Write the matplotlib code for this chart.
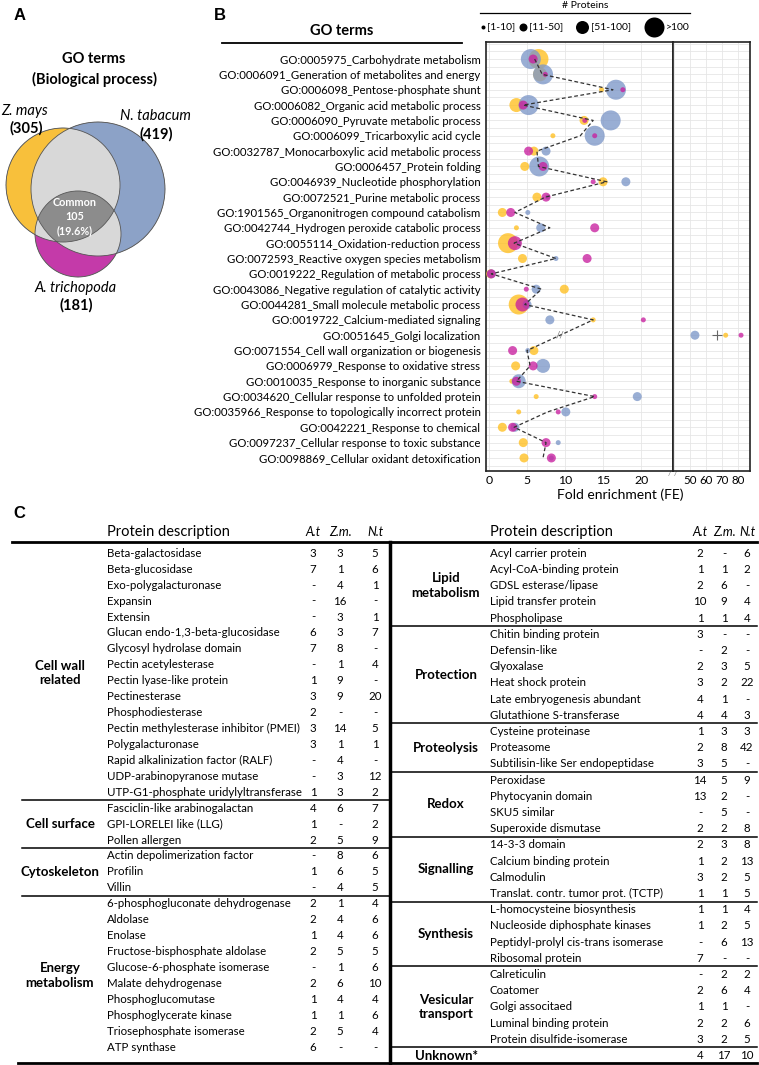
import numpy as np
import matplotlib
matplotlib.use("Agg")
import matplotlib.pyplot as plt
from matplotlib.patches import Circle

plt.rcParams['font.family'] = ['Lato', 'DejaVu Sans']

W, H = 759, 1065

# ---------------- Panel A: Venn of GO terms ----------------
venn_names = ['Z. mays', 'N. tabacum', 'A. trichopoda']
venn_totals = [305, 419, 181]
common_n = 105
common_pct = 19.6

# ---------------- Panel B: GO term enrichment ----------------
go_terms = [
    'GO:0005975_Carbohydrate metabolism',
    'GO:0006091_Generation of metabolites and energy',
    'GO:0006098_Pentose-phosphate shunt',
    'GO:0006082_Organic acid metabolic process',
    'GO:0006090_Pyruvate metabolic process',
    'GO:0006099_Tricarboxylic acid cycle',
    'GO:0032787_Monocarboxylic acid metabolic process',
    'GO:0006457_Protein folding',
    'GO:0046939_Nucleotide phosphorylation',
    'GO:0072521_Purine metabolic process',
    'GO:1901565_Organonitrogen compound catabolism',
    'GO:0042744_Hydrogen peroxide catabolic process',
    'GO:0055114_Oxidation-reduction process',
    'GO:0072593_Reactive oxygen species metabolism',
    'GO:0019222_Regulation of metabolic process',
    'GO:0043086_Negative regulation of catalytic activity',
    'GO:0044281_Small molecule metabolic process',
    'GO:0019722_Calcium-mediated signaling',
    'GO:0051645_Golgi localization',
    'GO:0071554_Cell wall organization or biogenesis',
    'GO:0006979_Response to oxidative stress',
    'GO:0010035_Response to inorganic substance',
    'GO:0034620_Cellular response to unfolded protein',
    'GO:0035966_Response to topologically incorrect protein',
    'GO:0042221_Response to chemical',
    'GO:0097237_Cellular response to toxic substance',
    'GO:0098869_Cellular oxidant detoxification',
]
fe_at = [5.8, 7.4, 17.6, 4.5, 12.6, 13.9, 5.2, 7.1, 13.7, 7.5, 2.85, 13.9, 3.4, 12.9,
         0.3, 4.9, 4.4, 20.3, 81.9, 3.1, 5.8, 3.6, 13.9, 9.1, 3.1, 7.5, 8.2]
fe_zm = [6.5, 6.7, 14.8, 3.6, 12.5, 8.4, 5.9, 4.7, 15.0, 6.3, 1.75, 3.6, 2.5, 4.4,
         0.2, 9.9, 3.9, 13.7, 72.3, 5.9, 3.5, 3.0, 6.2, 3.9, 1.75, 4.5, 4.6]
fe_nt = [5.5, 7.1, 16.7, 5.2, 16.0, 13.9, 7.5, 6.6, 18.0, 7.7, 5.1, 6.8, 3.9, 8.8,
         0.3, 6.2, 5.0, 8.0, 53.1, 5.1, 7.1, 3.9, 19.5, 10.1, 3.4, 9.1, 8.2]
fe_avg = [6.0, 7.0, 16.3, 4.5, 13.7, 12.0, 6.3, 6.5, 15.5, 7.4, 3.4, 8.0, 3.3, 8.8,
          0.3, 6.9, 4.7, 13.7, 66.9, 5.0, 5.4, 3.6, 13.9, 7.7, 3.3, 7.5, 7.1]
# protein-count class: 1=[1-10], 2=[11-50], 3=[51-100], 4=>100
cls_at = [2, 1, 1, 2, 1, 1, 2, 2, 1, 2, 2, 2, 3, 2, 2, 1, 3, 1, 1, 2, 2, 2, 1, 1, 2, 2, 2]
cls_zm = [4, 3, 1, 3, 2, 1, 2, 2, 2, 2, 2, 1, 4, 2, 2, 2, 4, 1, 1, 2, 2, 1, 1, 1, 2, 2, 2]
cls_nt = [4, 4, 4, 4, 4, 4, 2, 4, 2, 1, 1, 2, 1, 1, 2, 2, 2, 2, 2, 1, 3, 3, 2, 2, 2, 1, 1]
size_labels = ['[1-10]', '[11-50]', '[51-100]', '>100']
species = ['A. trichopoda', 'Z. mays', 'N. tobacum']

# ---------------- Panel C: protein table ----------------
left_groups = ['Cell wall\nrelated', 'Cell surface', 'Cytoskeleton', 'Energy\nmetabolism']
left_sizes = [16, 3, 3, 10]
left_items = [
    'Beta-galactosidase', 'Beta-glucosidase', 'Exo-polygalacturonase', 'Expansin', 'Extensin',
    'Glucan endo-1,3-beta-glucosidase', 'Glycosyl hydrolase domain', 'Pectin acetylesterase',
    'Pectin lyase-like protein', 'Pectinesterase', 'Phosphodiesterase',
    'Pectin methylesterase inhibitor (PMEI)', 'Polygalacturonase',
    'Rapid alkalinization factor (RALF)', 'UDP-arabinopyranose mutase',
    'UTP-G1-phosphate uridylyltransferase',
    'Fasciclin-like arabinogalactan', 'GPI-LORELEI like (LLG)', 'Pollen allergen',
    'Actin depolimerization factor', 'Profilin', 'Villin',
    '6-phosphogluconate dehydrogenase', 'Aldolase', 'Enolase', 'Fructose-bisphosphate aldolase',
    'Glucose-6-phosphate isomerase', 'Malate dehydrogenase', 'Phosphoglucomutase',
    'Phosphoglycerate kinase', 'Triosephosphate isomerase', 'ATP synthase',
]
left_at = ['3', '7', '-', '-', '-', '6', '7', '-', '1', '3', '2', '3', '3', '-', '-', '1',
           '4', '1', '2', '-', '1', '-', '2', '2', '1', '2', '-', '2', '1', '1', '2', '6']
left_zm = ['3', '1', '4', '16', '3', '3', '8', '1', '9', '9', '-', '14', '1', '4', '3', '3',
           '6', '-', '5', '8', '6', '4', '1', '4', '4', '5', '1', '6', '4', '1', '5', '-']
left_nt = ['5', '6', '1', '-', '1', '7', '-', '4', '-', '20', '-', '5', '1', '-', '12', '2',
           '7', '2', '9', '6', '5', '5', '4', '6', '6', '5', '6', '10', '4', '6', '4', '-']

right_groups = ['Lipid\nmetabolism', 'Protection', 'Proteolysis', 'Redox', 'Signalling',
                'Synthesis', 'Vesicular\ntransport', 'Unknown*']
right_sizes = [5, 6, 3, 4, 4, 4, 5, 1]
right_items = [
    'Acyl carrier protein', 'Acyl-CoA-binding protein', 'GDSL esterase/lipase',
    'Lipid transfer protein', 'Phospholipase',
    'Chitin binding protein', 'Defensin-like', 'Glyoxalase', 'Heat shock protein',
    'Late embryogenesis abundant', 'Glutathione S-transferase',
    'Cysteine proteinase', 'Proteasome', 'Subtilisin-like Ser endopeptidase',
    'Peroxidase', 'Phytocyanin domain', 'SKU5 similar', 'Superoxide dismutase',
    '14-3-3 domain', 'Calcium binding protein', 'Calmodulin', 'Translat. contr. tumor prot. (TCTP)',
    'L-homocysteine biosynthesis', 'Nucleoside diphosphate kinases',
    'Peptidyl-prolyl cis-trans isomerase', 'Ribosomal protein',
    'Calreticulin', 'Coatomer', 'Golgi associtaed', 'Luminal binding protein',
    'Protein disulfide-isomerase', '',
]
right_at = ['2', '1', '2', '10', '1', '3', '-', '2', '3', '4', '4', '1', '2', '3',
            '14', '13', '-', '2', '2', '1', '3', '1', '1', '1', '-', '7', '-', '2', '1', '2', '3', '4']
right_zm = ['-', '1', '6', '9', '1', '-', '2', '3', '2', '1', '4', '3', '8', '5',
            '5', '2', '5', '2', '3', '2', '2', '1', '1', '2', '6', '-', '2', '6', '1', '2', '2', '17']
right_nt = ['6', '2', '-', '4', '4', '-', '-', '5', '22', '-', '3', '3', '42', '-',
            '9', '-', '-', '8', '8', '13', '5', '5', '4', '5', '13', '-', '2', '4', '-', '6', '5', '10']

# ---------------- colours ----------------
c_at, c_zm, c_nt = '#C8209F', '#FFBF1F', '#7D97C8'
v_yellow, v_blue, v_mag = '#F8C13C', '#8CA2C8', '#C53AA9'
v_light, v_dark = '#D9D9D9', '#8C8C8C'

fig = plt.figure(figsize=(W / 100, H / 100), dpi=100)
cv = fig.add_axes([0, 0, 1, 1])
cv.axis('off')


def box(x0, y0, x1, y1):
    return [x0 / W, 1 - y1 / H, (x1 - x0) / W, (y1 - y0) / H]


# ====================== A ======================
cv.text(14, 16, 'A', fontsize=12, weight='bold', family='Liberation Sans', va='center', ha='left')
cv.text(94, 59, 'GO terms', fontsize=10.5, weight='bold', ha='center', va='center')
cv.text(94, 79, '(Biological process)', fontsize=10.5, weight='bold', ha='center', va='center')

circles = [((63, 185), 57), ((98, 189), 67), ((78, 234), 43)]
xs = np.linspace(0, 175, 700)
ys = np.linspace(110, 290, 720)
X, Y = np.meshgrid(xs, ys)
inside = [((X - c[0]) ** 2 + (Y - c[1]) ** 2 <= r ** 2) for c, r in circles]
cnt = inside[0].astype(int) + inside[1] + inside[2]
img = np.zeros((len(ys), len(xs), 4))
for m, col in [(inside[0] & (cnt == 1), v_yellow), (inside[1] & (cnt == 1), v_blue),
               (inside[2] & (cnt == 1), v_mag), (cnt == 2, v_light), (cnt == 3, v_dark)]:
    img[m] = matplotlib.colors.to_rgba(col)
cv.imshow(img, extent=(0, 175, 290, 110), interpolation='antialiased', zorder=1)
for c, r in circles:
    cv.add_patch(Circle(c, r, fill=False, ec='#555555', lw=0.6, zorder=2))

cv.text(25, 111, venn_names[0], fontsize=10.5, style='italic', ha='center', va='center')
cv.text(26, 128, f'({venn_totals[0]})', fontsize=10.5, weight='bold', ha='center', va='center')
cv.text(155, 116, venn_names[1], fontsize=10.5, style='italic', ha='center', va='center')
cv.text(156, 134, f'({venn_totals[1]})', fontsize=10.5, weight='bold', ha='center', va='center')
cv.text(76, 288, venn_names[2], fontsize=10.5, style='italic', ha='center', va='center')
cv.text(76, 305, f'({venn_totals[2]})', fontsize=10.5, weight='bold', ha='center', va='center')
for yy, s in zip([203, 217, 231], ['Common', str(common_n), f'({common_pct}%)']):
    cv.text(75, yy, s, fontsize=7.8, weight='bold', color='white', ha='center', va='center', zorder=3)

# ====================== B ======================
cv.text(214, 16, 'B', fontsize=12, weight='bold', family='Liberation Sans', va='center', ha='left')
cv.text(342, 31, 'GO terms', fontsize=10.5, weight='bold', ha='center', va='center')
cv.plot([222, 462], [42.5, 42.5], color='black', lw=1.3)
cv.text(585, 5, '# Proteins', fontsize=7.5, ha='center', va='center')
cv.plot([480, 690], [12.7, 12.7], color='black', lw=0.9)
leg_diam = [4, 8, 13, 20]
leg_mx = [483, 523, 582, 654]
for d, mx, lab in zip(leg_diam, leg_mx, size_labels):
    cv.scatter([mx], [27], s=(d * 0.72) ** 2, color='black', lw=0)
    cv.text(mx + d / 2 + 2, 27, lab, fontsize=7.5, ha='left', va='center')

ax1 = fig.add_axes(box(486, 41.7, 673, 471))
ax2 = fig.add_axes(box(673, 41.7, 750, 471))
rows = np.arange(len(go_terms))
pt_diam = np.array([0, 5, 9, 14, 20])
for ax in (ax1, ax2):
    for fe, cl, col in [(fe_zm, cls_zm, c_zm), (fe_nt, cls_nt, c_nt), (fe_at, cls_at, c_at)]:
        ax.scatter(fe, rows, s=(pt_diam[np.array(cl)] * 0.72) ** 2, color=col, alpha=0.78,
                   lw=0, zorder=3)
    ax.set_ylim(26.85, -1.13)
    ax.set_yticks(np.arange(-1, 27, 0.5), minor=True)
    ax.grid(True, which='both', axis='y', color='#E6E6E6', lw=0.6, zorder=0)
    ax.grid(True, which='major', axis='x', color='#E6E6E6', lw=0.6, zorder=0)
    ax.tick_params(length=0, labelsize=8.8, pad=3, which='both')
    for s in ax.spines.values():
        s.set_color('#222222')
        s.set_linewidth(1.2)
    ax.set_axisbelow(True)

avg = np.array(fe_avg)
left_mask = avg < 30
ax1.plot(avg[left_mask], rows[left_mask], ls=(0, (3, 2)), color='#333333', lw=0.9, zorder=4)
ax2.plot(avg[~left_mask], rows[~left_mask], marker='+', ms=7, mew=0.8, ls='none', color='#666666', zorder=4)
# break marks on the dashed line across the skipped row
j = int(np.where(~left_mask)[0][0])
mid = (avg[j - 1] + avg[j + 1]) / 2
ax1.text(mid, j, '//', fontsize=7, color='#777777', ha='center', va='center', zorder=5)

ax1.set_xlim(-0.4, 24.2)
ax1.set_xticks([0, 5, 10, 15, 20])
ax1.set_yticks(rows)
ax1.set_yticklabels(go_terms, fontsize=8.2)
ax1.tick_params(axis='y', pad=4)
ax2.set_xlim(39.4, 87.5)
ax2.set_xticks([40, 50, 60, 70, 80])
ax2.set_xticklabels(['', '50', '60', '70', '80'], fontsize=8.3)
ax2.set_yticks(rows)
ax2.set_yticklabels([])
cv.text(673, 474, '/ /', fontsize=6, color='#888888', ha='center', va='center', zorder=6)
cv.text(620, 495, 'Fold enrichment (FE)', fontsize=10, ha='center', va='center')

# species legend in the right panel
for yy, col, name in zip([67, 82, 96], [c_at, c_zm, c_nt], species):
    cv.scatter([683], [yy], s=(9 * 0.72) ** 2, color=col, alpha=0.85, lw=0, zorder=5)
    cv.text(691, yy, name, fontsize=6.9, style='italic', ha='left', va='center', zorder=5)
cv.plot([677, 690], [115, 115], ls=(0, (3, 2)), color='#333333', lw=0.9, zorder=5)
cv.text(696, 112, 'Average FE', fontsize=6.9, ha='left', va='center', zorder=5)

# ====================== C ======================
cv.text(13, 513, 'C', fontsize=12, weight='bold', family='Liberation Sans', va='center', ha='left')
y_head = 532
divider_x = 390
cv.plot([12, 757], [542, 542], color='black', lw=2.0)
cv.plot([divider_x, divider_x], [542, 1063], color='black', lw=2.5)
cv.plot([18, 757], [1063, 1063], color='black', lw=2.0)


def draw_table(groups, sizes, items, at, zm, nt, x_cat, x_item, x_num, y0, dy, x_line):
    cv.text(x_item, y_head, 'Protein description', fontsize=10.5, ha='left', va='center')
    for xn, h in zip(x_num, ['A.t', 'Z.m.', 'N.t']):
        cv.text(xn, y_head, h, fontsize=9, style='italic', ha='center', va='center')
    for i, it in enumerate(items):
        y = y0 + i * dy
        cv.text(x_item, y, it, fontsize=8.3, ha='left', va='center')
        for xn, v in zip(x_num, [at[i], zm[i], nt[i]]):
            cv.text(xn, y, v, fontsize=8.3, ha='center', va='center')
    start = 0
    for k, (g, n) in enumerate(zip(groups, sizes)):
        yc = y0 + (start + (n - 1) / 2) * dy
        cv.text(x_cat, yc, g, fontsize=9.5, weight='bold', ha='center', va='center', linespacing=1.25)
        start += n
        if k < len(groups) - 1:
            ys_ = y0 + (start - 0.5) * dy
            cv.plot(x_line, [ys_, ys_], color='black', lw=1.1)


draw_table(left_groups, left_sizes, left_items, left_at, left_zm, left_nt,
           60, 107, [313, 340, 375], 553.3, 15.93, [22, divider_x])
draw_table(right_groups, right_sizes, right_items, right_at, right_zm, right_nt,
           446, 490, [700, 724, 747], 553.3, 16.2, [divider_x, 757])

cv.set_xlim(0, W)
cv.set_ylim(H, 0)
cv.set_aspect('auto')

fig.savefig('out.png', dpi=100)
